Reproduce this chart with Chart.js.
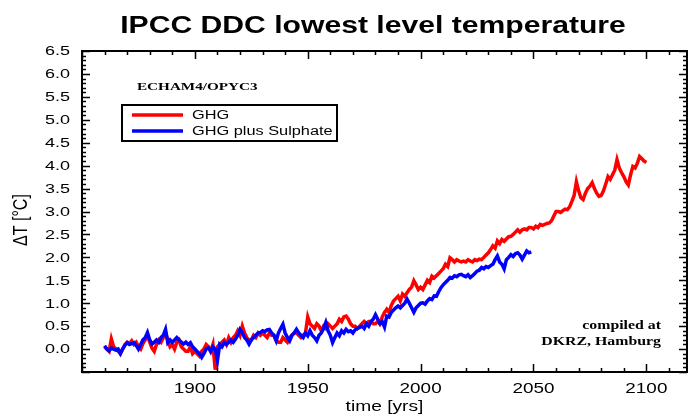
<!DOCTYPE html>
<html>
<head>
<meta charset="utf-8">
<script src="https://cdn.jsdelivr.net/npm/chart.js@4.4.1/dist/chart.umd.min.js"></script>
<style>
  body { margin: 0; background: #fff; }
  #wrap { width: 690px; height: 416px; }
</style>
</head>
<body>
<div id="wrap"><canvas id="tempChart" width="690" height="416"></canvas></div>
<script>
// ==========================================
// Data
// ==========================================
const chartTitle = 'IPCC DDC lowest level temperature';
const modelName = 'ECHAM4/OPYC3';
const creditLines = ['compiled at', 'DKRZ, Hamburg'];
const seriesNames = ['GHG', 'GHG plus Sulphate'];
const startYear = 1860;

// GHG only, one value per year 1860..2100
const ghgValues = [
  0.05, 0.0, -0.05, 0.22, 0.05, 0.0, -0.05, -0.1, 0.0, 0.1,
  0.15, 0.12, 0.18, 0.1, 0.15, 0.05, 0.0, 0.12, 0.2, 0.3,
  0.15, 0.02, -0.05, 0.1, 0.2, 0.15, 0.25, 0.35, 0.2, 0.05,
  0.1, 0.0, 0.15, 0.2, 0.05, 0.0, -0.05, -0.05, 0.05, -0.1,
  -0.05, -0.1, -0.15, -0.05, 0.0, 0.1, 0.05, -0.05, 0.1, -0.45,
  0.05, 0.1, 0.15, 0.2, 0.1, 0.25, 0.15, 0.25, 0.3, 0.4,
  0.3, 0.5, 0.35, 0.25, 0.2, 0.2, 0.3, 0.25, 0.35, 0.3,
  0.35, 0.3, 0.25, 0.35, 0.3, 0.3, 0.2, 0.15, 0.15, 0.25,
  0.2, 0.15, 0.25, 0.3, 0.35, 0.35, 0.3, 0.25, 0.3, 0.35,
  0.7, 0.55, 0.5, 0.45, 0.55, 0.5, 0.4, 0.5, 0.45, 0.55,
  0.5, 0.45, 0.5, 0.55, 0.65, 0.6, 0.7, 0.72, 0.65, 0.55,
  0.5, 0.5, 0.45, 0.5, 0.55, 0.6, 0.55, 0.6, 0.6, 0.55,
  0.55, 0.6, 0.55, 0.7, 0.8, 0.87, 0.8, 0.95, 1.05, 1.1,
  1.15, 1.05, 1.2, 1.15, 1.23, 1.3, 1.35, 1.49, 1.4, 1.3,
  1.35, 1.3, 1.4, 1.5, 1.45, 1.59, 1.55, 1.6, 1.65, 1.7,
  1.75, 1.85, 1.8, 1.99, 1.95, 1.9, 1.95, 1.92, 1.9, 1.92,
  1.9, 1.95, 1.92, 1.9, 1.95, 1.93, 1.96, 1.95, 2.0, 2.05,
  2.1, 2.17, 2.25, 2.2, 2.36, 2.3, 2.39, 2.35, 2.4, 2.45,
  2.46, 2.5, 2.55, 2.6, 2.55, 2.6, 2.62, 2.6, 2.65, 2.65,
  2.62, 2.68, 2.65, 2.72, 2.7, 2.72, 2.74, 2.75, 2.8, 2.9,
  3.0, 3.0, 2.98, 3.02, 3.05, 3.04, 3.1, 3.22, 3.35, 3.65,
  3.45, 3.3, 3.26, 3.4, 3.5, 3.55, 3.63, 3.5, 3.4, 3.33,
  3.35, 3.45, 3.6, 3.76, 3.7, 3.8, 3.9, 4.13, 3.95, 3.85,
  3.76, 3.65, 3.58, 3.8, 3.98, 3.95, 4.05, 4.2, 4.15, 4.1,
  4.07
];

// GHG plus sulphate, one value per year 1860..2049
const ghgSulValues = [
  0.07, 0.0, -0.04, 0.02, 0.0, -0.02, 0.0, -0.1, 0.0, 0.08,
  0.14, 0.1, 0.12, 0.14, 0.08, 0.0, 0.1, 0.2, 0.25, 0.36,
  0.2, 0.11, 0.15, 0.2, 0.15, 0.25, 0.3, 0.43, 0.14, 0.2,
  0.15, 0.2, 0.25, 0.2, 0.15, 0.11, 0.15, 0.1, 0.14, 0.05,
  0.0, -0.05, -0.1, -0.18, -0.1, 0.0, 0.03, -0.05, 0.05, 0.0,
  -0.25, 0.1, 0.05, 0.14, 0.1, 0.15, 0.2, 0.15, 0.22, 0.3,
  0.43, 0.36, 0.25, 0.2, 0.11, 0.2, 0.25, 0.3, 0.35, 0.36,
  0.4, 0.38, 0.42, 0.43, 0.35, 0.3, 0.18, 0.35, 0.45, 0.54,
  0.35, 0.25, 0.18, 0.3, 0.35, 0.43, 0.35, 0.3, 0.25, 0.35,
  0.29, 0.4, 0.3, 0.25, 0.18, 0.3, 0.35, 0.45, 0.58, 0.4,
  0.3, 0.14, 0.25, 0.35, 0.29, 0.4, 0.35, 0.43, 0.38, 0.4,
  0.35, 0.42, 0.45, 0.47, 0.5, 0.45, 0.55, 0.5, 0.6, 0.65,
  0.75, 0.65, 0.55, 0.6, 0.48, 0.72, 0.7, 0.8, 0.85, 0.9,
  0.94, 0.9, 0.95, 1.0, 1.09, 1.0, 0.9, 0.8, 0.9, 0.95,
  1.0, 1.01, 0.98, 1.05, 1.1, 1.08, 1.16, 1.15, 1.25, 1.34,
  1.4, 1.45, 1.5, 1.56, 1.55, 1.6, 1.58, 1.62, 1.63, 1.6,
  1.58, 1.62, 1.56, 1.6, 1.65, 1.7, 1.72, 1.78, 1.75, 1.8,
  1.78, 1.82, 1.85, 1.95, 2.03, 1.9, 1.85, 1.75, 1.95, 2.0,
  2.06, 2.02, 2.08, 2.1, 2.05, 1.96, 2.05, 2.14, 2.1, 2.12
];

// axis ranges and tick steps
const xRange = [1850, 2118];
const yRange = [-0.5, 6.5];
const xMajorStep = 50, xMinorStep = 10;
const yMajorStep = 0.5, yMinorStep = 0.1;
const xLabelYears = [1900, 1950, 2000, 2050, 2100];

function toPoints(values) {
    return values.map((v, i) => ({ x: startYear + i, y: v }));
}

// ==========================================
// Text helper: the reference glyphs are wide, so stretch them
// ==========================================
function wideText(ctx, text, x, y, font, align, sx, baseline) {
    ctx.save();
    ctx.font = font;
    ctx.fillStyle = '#000';
    ctx.textAlign = align;
    ctx.textBaseline = baseline || 'alphabetic';
    ctx.translate(x, y);
    ctx.scale(sx, 1);
    ctx.fillText(text, 0, 0);
    ctx.restore();
}

// ==========================================
// Frame, inward ticks, labels and legend
// ==========================================
const decorPlugin = {
    id: 'decor',
    afterDraw(chart) {
        const ctx = chart.ctx;
        const area = chart.chartArea;
        const xs = chart.scales.x;
        const ys = chart.scales.y;
        const sans = '"Liberation Sans", Arial, sans-serif';
        const serif = '"Liberation Serif", "Times New Roman", serif';

        ctx.save();
        ctx.strokeStyle = '#000';

        // inward ticks on all four sides
        ctx.lineWidth = 1.5;
        ctx.beginPath();
        for (let v = Math.ceil(xRange[0] / xMinorStep) * xMinorStep; v <= xRange[1]; v += xMinorStep) {
            const px = Math.round(xs.getPixelForValue(v)) + 0.5;
            const len = v % xMajorStep === 0 ? 8 : 4;
            ctx.moveTo(px, area.bottom); ctx.lineTo(px, area.bottom - len);
            ctx.moveTo(px, area.top); ctx.lineTo(px, area.top + len);
        }
        const nY = Math.round((yRange[1] - yRange[0]) / yMinorStep);
        for (let i = 0; i <= nY; i++) {
            const v = yRange[0] + i * yMinorStep;
            const py = Math.round(ys.getPixelForValue(v)) + 0.5;
            const major = i % Math.round(yMajorStep / yMinorStep) === 0;
            const len = major ? 8 : 4;
            ctx.moveTo(area.left, py); ctx.lineTo(area.left + len, py);
            ctx.moveTo(area.right, py); ctx.lineTo(area.right - len, py);
        }
        ctx.stroke();

        // frame
        ctx.lineWidth = 2;
        ctx.strokeRect(area.left, area.top, area.right - area.left, area.bottom - area.top);

        // y tick labels
        ys.ticks.forEach(t => {
            if (t.value < 0 - 1e-9) return;
            wideText(ctx, t.value.toFixed(1), 70, ys.getPixelForValue(t.value) + 1,
                '12px ' + sans, 'right', 1.5, 'middle');
        });

        // x tick labels
        xLabelYears.forEach(yr => {
            wideText(ctx, String(yr), xs.getPixelForValue(yr), 393, '14px ' + sans, 'center', 1.35);
        });

        // axis titles
        wideText(ctx, 'time [yrs]', (area.left + area.right) / 2, 411, '15px ' + sans, 'center', 1.28);
        ctx.save();
        ctx.translate(27, 220);
        ctx.rotate(-Math.PI / 2);
        ctx.scale(1, 1.3);
        ctx.font = '16px ' + sans;
        ctx.textAlign = 'center';
        ctx.fillStyle = '#000';
        ctx.fillText('\u0394T [\u00b0C]', 0, 0);
        ctx.restore();

        // title
        wideText(ctx, chartTitle, 373, 33, 'bold 23px ' + sans, 'center', 1.31);

        // model name
        wideText(ctx, modelName, 137, 90, 'bold 11px ' + serif, 'left', 1.38);

        // legend
        ctx.lineWidth = 2;
        ctx.strokeRect(122, 105, 215, 36);
        chart.data.datasets.forEach((ds, i) => {
            const ly = 115 + i * 16;
            ctx.strokeStyle = ds.borderColor;
            ctx.lineWidth = 3.5;
            ctx.beginPath();
            ctx.moveTo(132, ly); ctx.lineTo(183, ly);
            ctx.stroke();
            wideText(ctx, ds.label, 192, ly + 4, '12px ' + sans, 'left', 1.36);
        });

        // credit
        creditLines.forEach((line, i) => {
            wideText(ctx, line, 661, 329 + i * 16, 'bold 12px ' + serif, 'right', 1.32);
        });

        ctx.restore();
    }
};

// ==========================================
// Chart
// ==========================================
document.addEventListener('DOMContentLoaded', () => {
    const ctx = document.getElementById('tempChart').getContext('2d');
    new Chart(ctx, {
        type: 'line',
        data: {
            datasets: [
                {
                    label: seriesNames[0],
                    data: toPoints(ghgValues),
                    borderColor: '#ff0000',
                    borderWidth: 3.5,
                    pointRadius: 0,
                    tension: 0,
                    order: 1
                },
                {
                    label: seriesNames[1],
                    data: toPoints(ghgSulValues),
                    borderColor: '#0000ff',
                    borderWidth: 3.5,
                    pointRadius: 0,
                    tension: 0,
                    order: 0
                }
            ]
        },
        options: {
            responsive: false,
            animation: false,
            layout: { padding: { left: 0, top: 51, right: 3, bottom: 0 } },
            plugins: {
                legend: { display: false },
                tooltip: { enabled: false },
                title: { display: false }
            },
            scales: {
                x: {
                    type: 'linear',
                    min: xRange[0],
                    max: xRange[1],
                    grid: { display: false },
                    border: { display: false },
                    ticks: { display: false, stepSize: xMajorStep },
                    afterFit: (scale) => { scale.height = 44; }
                },
                y: {
                    min: yRange[0],
                    max: yRange[1],
                    grid: { display: false },
                    border: { display: false },
                    ticks: { display: false, stepSize: yMajorStep },
                    afterFit: (scale) => { scale.width = 82; }
                }
            }
        },
        plugins: [decorPlugin]
    });
});
</script>
</body>
</html>
